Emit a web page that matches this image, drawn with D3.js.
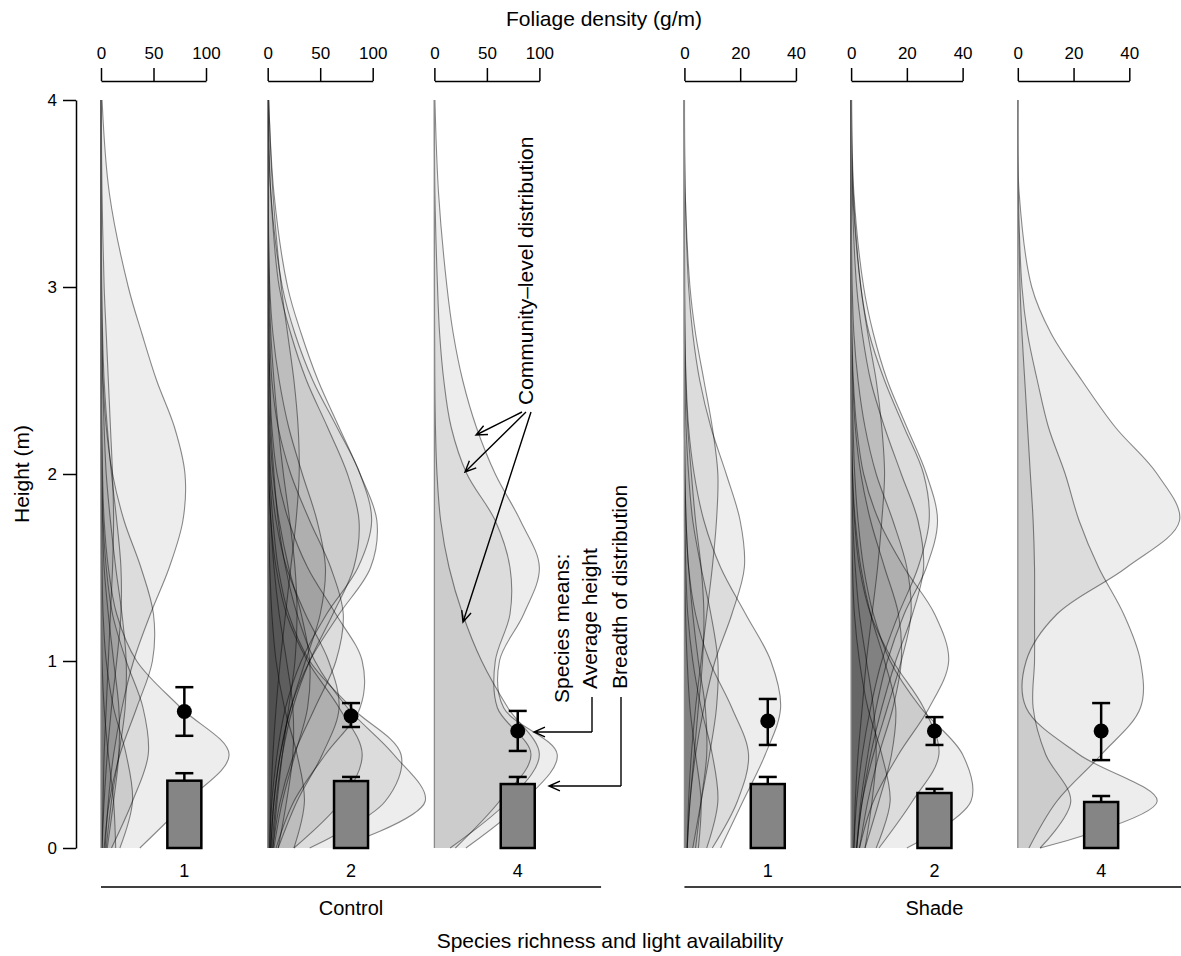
<!DOCTYPE html>
<html>
<head>
<meta charset="utf-8">
<script src="https://cdn.jsdelivr.net/npm/d3@7"></script>
<style>
  html, body { margin: 0; padding: 0; background: #fff; }
  svg { display: block; }
</style>
</head>
<body>
<svg id="chart" width="1181" height="956"></svg>
<script>
// ---- data -----------------------------------------------------------------
// heights (m) at which each foliage-density profile is tabulated
const heights = [0, 0.25, 0.5, 0.75, 1, 1.25, 1.5, 1.75, 2, 2.25, 2.5, 2.75, 3, 3.5, 4];

const treatments = ["Control", "Shade"];
const richness = ["1", "2", "4"];
const densityMax = [100, 40];
const densityTicks = [[0, 50, 100], [0, 20, 40]];
const heightTicks = [0, 1, 2, 3, 4];

// community-level foliage density (g/m) at each height, one row per plot
const profilesControl1 = [
  [37, 82, 122, 76, 34, 15, 7, 3, 1.5, 0.8, 0.4, 0.2, 0.1, 0, 0],
  [4, 7, 12, 20, 31, 47, 65, 78, 80, 70, 53, 39, 26, 8, 1],
  [3, 8, 18, 34, 49, 50, 38, 22, 11, 5, 2, 1, 0.5, 0, 0],
  [10, 30, 45, 40, 24, 11, 5, 2, 1, 0.5, 0.2, 0, 0, 0, 0],
  [18, 30, 24, 12, 5, 2, 1, 0.5, 0.2, 0, 0, 0, 0, 0, 0],
  [5, 10, 17, 23, 24, 20, 14, 9, 5, 3, 1.5, 0.7, 0.3, 0, 0],
  [1, 3, 6, 10, 15, 19, 19, 15, 10, 6, 3, 1.5, 0.7, 0.1, 0],
  [6, 12, 17, 17, 12, 7, 3, 1.5, 0.5, 0.2, 0, 0, 0, 0, 0],
  [14, 12, 7, 3, 1, 0.5, 0.2, 0, 0, 0, 0, 0, 0, 0, 0],
  [1, 2, 3, 5, 7, 9, 11, 12, 11, 9, 7, 5, 3, 1, 0.2]
];
const profilesControl2 = [
  [3, 6, 12, 22, 40, 68, 98, 104, 88, 68, 48, 32, 19, 6, 1],
  [2, 4, 9, 17, 32, 56, 86, 99, 88, 66, 43, 26, 14, 3, 0.5],
  [4, 8, 14, 24, 40, 62, 82, 87, 76, 57, 37, 22, 11, 3, 0.5],
  [66, 150, 120, 76, 45, 28, 17, 10, 6, 3, 2, 1, 0.5, 0, 0],
  [40, 112, 127, 80, 40, 20, 10, 5, 2, 1, 0.5, 0, 0, 0, 0],
  [8, 25, 55, 88, 90, 65, 38, 20, 9, 4, 2, 1, 0.3, 0, 0],
  [25, 70, 90, 68, 38, 18, 8, 3, 1, 0.5, 0, 0, 0, 0, 0],
  [5, 12, 25, 45, 65, 72, 60, 40, 22, 10, 4, 2, 1, 0, 0],
  [10, 28, 52, 68, 58, 36, 18, 8, 3, 1, 0.5, 0, 0, 0, 0],
  [3, 6, 12, 22, 36, 50, 55, 47, 33, 20, 11, 5, 2, 0.5, 0],
  [6, 14, 26, 38, 40, 32, 20, 11, 5, 2, 1, 0.5, 0, 0, 0],
  [25, 35, 28, 16, 8, 4, 2, 1, 0.5, 0, 0, 0, 0, 0, 0],
  [5, 9, 14, 20, 26, 28, 26, 21, 15, 10, 6, 3, 1.5, 0.3, 0],
  [10, 18, 24, 24, 18, 11, 6, 3, 1, 0.5, 0, 0, 0, 0, 0],
  [2, 3, 5, 8, 12, 17, 22, 27, 30, 29, 25, 19, 13, 5, 1]
];
const profilesControl4 = [
  [30, 85, 117, 66, 62, 85, 100, 82, 58, 40, 27, 18, 12, 4, 0.5],
  [20, 62, 92, 60, 58, 72, 72, 58, 31, 16, 9, 5, 3, 0.5, 0],
  [15, 70, 100, 70, 45, 27, 14, 6, 2.5, 1, 0.4, 0.2, 0.1, 0, 0]
];
const profilesShade1 = [
  [13, 21, 29, 34.5, 31, 22, 13, 7, 3.5, 1.5, 0.6, 0.2, 0.1, 0, 0],
  [1, 2, 4, 7, 11, 17, 21.5, 20, 15, 9.5, 5.5, 3, 1.5, 0.3, 0],
  [10, 19, 23, 17, 9, 4, 1.5, 0.6, 0.2, 0, 0, 0, 0, 0, 0],
  [1, 1.5, 2.5, 4, 6, 8, 10, 11.5, 12, 10, 7, 4, 2, 0.3, 0],
  [3, 6, 9, 11.5, 12, 9.5, 6, 3, 1.5, 0.6, 0.2, 0, 0, 0, 0],
  [8, 12, 10, 6, 3, 1.2, 0.5, 0.2, 0, 0, 0, 0, 0, 0, 0],
  [4, 6, 8, 7.5, 5, 3, 1.5, 0.6, 0.2, 0, 0, 0, 0, 0, 0],
  [1, 2, 3.5, 5, 6.5, 7, 6, 4, 2.5, 1.2, 0.5, 0.2, 0, 0, 0],
  [5, 6, 4, 2, 1, 0.4, 0.1, 0, 0, 0, 0, 0, 0, 0, 0]
];
const profilesShade2 = [
  [2, 3.5, 6, 9, 13, 19, 27, 31, 27, 20, 13, 8, 4.5, 1, 0.2],
  [1, 2, 4, 7, 11, 17, 24, 28, 26, 19, 12, 6.5, 3.5, 0.6, 0.1],
  [2, 4, 7, 11, 16, 22, 26, 24, 18, 12, 7, 4, 2, 0.4, 0],
  [20, 43, 40, 25, 14, 8, 4.5, 2.5, 1.3, 0.7, 0.3, 0.1, 0, 0, 0],
  [3, 8, 17, 28, 35, 30, 19, 10, 4.5, 2, 0.8, 0.3, 0.1, 0, 0],
  [10, 22, 31.5, 26, 15, 7, 3, 1.2, 0.5, 0.2, 0, 0, 0, 0, 0],
  [2, 4, 8, 13, 18, 21.5, 20, 15, 9, 5, 2.5, 1, 0.4, 0, 0],
  [3, 6, 10, 15, 18, 17, 12, 7, 3.5, 1.5, 0.6, 0.2, 0, 0, 0],
  [5, 10, 14.5, 16, 12, 7, 3.5, 1.5, 0.5, 0.2, 0, 0, 0, 0, 0],
  [9, 14, 11, 6, 3, 1.2, 0.5, 0.2, 0, 0, 0, 0, 0, 0, 0],
  [1, 1.5, 2.5, 4, 5.5, 7.5, 9.5, 11, 12, 11, 9, 6, 3.5, 0.8, 0.1],
  [5, 7.5, 9, 8, 5.5, 3, 1.5, 0.6, 0.2, 0, 0, 0, 0, 0, 0]
];
const profilesShade4 = [
  [8, 50, 22, 3, 3, 14, 39, 58, 50, 35, 23, 12, 5, 0.5, 0],
  [4, 14, 30, 44, 44, 38, 29, 22, 17, 11, 7, 3.5, 1.5, 0.2, 0],
  [8, 19, 10, 5.5, 6, 6, 6, 5.5, 4.5, 3.5, 2.5, 1.5, 0.8, 0.1, 0]
];

// species means (m): average height with its interval, breadth with its upper error
const meanHeight   = [0.73, 0.706, 0.626, 0.679, 0.626, 0.626];
const meanHeightLo = [0.60, 0.647, 0.519, 0.551, 0.551, 0.47];
const meanHeightHi = [0.86, 0.775, 0.733, 0.797, 0.70, 0.775];
const breadth      = [0.36, 0.358, 0.342, 0.342, 0.294, 0.246];
const breadthHi    = [0.40, 0.38, 0.38, 0.38, 0.316, 0.278];

// ---- layout ---------------------------------------------------------------
const FONT = "'Liberation Sans', Arial, Helvetica, sans-serif";
const svg = d3.select("#chart").attr("font-family", FONT);

const y = d3.scaleLinear().domain([0, 4]).range([848, 100]);
// six panel slots; the Shade group starts half a slot after the Control group
const slot = d3.scaleLinear().domain([0, 6.5]).range([101, 1184.5]);
const groupStart = [0, 3.5];
const axisLen = [105, 111.5];

const profileSets = [profilesControl1, profilesControl2, profilesControl4,
                     profilesShade1, profilesShade2, profilesShade4];

const panels = [];
treatments.forEach((t, ti) => richness.forEach((r, ri) => panels.push({ t, ti, r, ri })));

function styleAxis(g, size) {
  g.attr("font-family", FONT).attr("font-size", size);
  g.selectAll(".domain").attr("stroke", "#000").attr("stroke-width", 1.5);
  g.selectAll(".tick line").attr("stroke", "#000").attr("stroke-width", 1.5);
  g.selectAll(".tick text").attr("fill", "#000");
}

const smooth = d3.curveCatmullRom.alpha(0.5);

panels.forEach((p, i) => {
  const left = slot(groupStart[p.ti] + p.ri);
  const cx = slot(groupStart[p.ti] + p.ri + 0.5);
  const x = d3.scaleLinear().domain([0, densityMax[p.ti]]).range([left, left + axisLen[p.ti]]);

  // foliage density scale above each panel
  svg.append("g")
    .attr("transform", "translate(0,81)")
    .call(d3.axisTop(x).tickValues(densityTicks[p.ti]).tickSize(13).tickSizeOuter(0).tickPadding(9))
    .call(g => styleAxis(g, 17));

  // overlapping profiles, tabulated from the top of the canopy down
  const rows = profileSets[i].map(vals => heights.map((h, k) => ({ h, v: vals[k] })).reverse());
  const area = d3.area().curve(smooth)
    .y(d => y(d.h)).x0(x(0)).x1(d => x(d.v));
  const line = d3.line().curve(smooth)
    .y(d => y(d.h)).x(d => x(d.v));

  const prof = svg.append("g").selectAll("g").data(rows).join("g");
  prof.append("path").attr("d", area).attr("fill", "#000").attr("fill-opacity", 0.07);
  prof.append("path").attr("d", line).attr("fill", "none")
    .attr("stroke", "#000").attr("stroke-opacity", 0.45).attr("stroke-width", 1.1);

  svg.append("line")
    .attr("x1", x(0)).attr("x2", x(0)).attr("y1", y(0)).attr("y2", y(4))
    .attr("stroke", "#8a8a8a").attr("stroke-width", 1.3);

  // breadth of distribution: bar with upper error
  const bw = 34;
  svg.append("line")
    .attr("x1", cx).attr("x2", cx).attr("y1", y(breadth[i])).attr("y2", y(breadthHi[i]))
    .attr("stroke", "#000").attr("stroke-width", 2.5);
  svg.append("line")
    .attr("x1", cx - 9).attr("x2", cx + 9).attr("y1", y(breadthHi[i])).attr("y2", y(breadthHi[i]))
    .attr("stroke", "#000").attr("stroke-width", 2.5);
  svg.append("rect")
    .attr("x", cx - bw / 2).attr("width", bw)
    .attr("y", y(breadth[i])).attr("height", y(0) - y(breadth[i]))
    .attr("fill", "#858585").attr("stroke", "#000").attr("stroke-width", 2.5);

  // average height: point with interval
  svg.append("line")
    .attr("x1", cx).attr("x2", cx).attr("y1", y(meanHeightLo[i])).attr("y2", y(meanHeightHi[i]))
    .attr("stroke", "#000").attr("stroke-width", 2.5);
  [meanHeightLo[i], meanHeightHi[i]].forEach(v => {
    svg.append("line")
      .attr("x1", cx - 9).attr("x2", cx + 9).attr("y1", y(v)).attr("y2", y(v))
      .attr("stroke", "#000").attr("stroke-width", 2.5);
  });
  svg.append("circle").attr("cx", cx).attr("cy", y(meanHeight[i])).attr("r", 7.5).attr("fill", "#000");

  // richness label
  svg.append("text").attr("x", cx).attr("y", 877).attr("text-anchor", "middle")
    .attr("font-size", 18).text(p.r);
});

// height axis
svg.append("g")
  .attr("transform", "translate(76,0)")
  .call(d3.axisLeft(y).tickValues(heightTicks).tickFormat(d3.format("d")).tickSize(13).tickSizeOuter(0).tickPadding(6))
  .call(g => styleAxis(g, 17));

// treatment groups
treatments.forEach((t, ti) => {
  const x1 = slot(groupStart[ti]), x2 = slot(groupStart[ti] + 3);
  svg.append("line").attr("x1", x1).attr("x2", x2).attr("y1", 887).attr("y2", 887)
    .attr("stroke", "#000").attr("stroke-width", 1.5);
  svg.append("text").attr("x", (x1 + x2) / 2).attr("y", 915).attr("text-anchor", "middle")
    .attr("font-size", 20).text(t);
});

// axis titles
svg.append("text").attr("x", 604).attr("y", 26).attr("text-anchor", "middle")
  .attr("font-size", 21).text("Foliage density (g/m)");
svg.append("text").attr("x", 610).attr("y", 948).attr("text-anchor", "middle")
  .attr("font-size", 21).text("Species richness and light availability");
svg.append("text").attr("transform", "translate(29,474) rotate(-90)").attr("text-anchor", "middle")
  .attr("font-size", 21).text("Height (m)");

// ---- annotations ------------------------------------------------------------
function arrow(x1, y1, x2, y2) {
  const a = Math.atan2(y2 - y1, x2 - x1), L = 12, s = 0.42;
  const p = d3.path();
  p.moveTo(x1, y1); p.lineTo(x2, y2);
  p.moveTo(x2 - L * Math.cos(a - s), y2 - L * Math.sin(a - s));
  p.lineTo(x2, y2);
  p.lineTo(x2 - L * Math.cos(a + s), y2 - L * Math.sin(a + s));
  svg.append("path").attr("d", p.toString()).attr("fill", "none")
    .attr("stroke", "#000").attr("stroke-width", 1.4);
}
function vtext(x, yStart, str) {
  svg.append("text").attr("transform", `translate(${x},${yStart}) rotate(-90)`)
    .attr("font-size", 21).text(str);
}

vtext(533, 405, "Community\u2013level distribution");
arrow(522, 412, 476, 435);
arrow(526, 412, 465, 472);
arrow(531, 412, 463, 622);

vtext(569, 703, "Species means:");
vtext(597, 689, "Average height");
vtext(627, 689, "Breadth of distribution");

svg.append("path").attr("d", "M592,697 V732").attr("stroke", "#000").attr("stroke-width", 1.4).attr("fill", "none");
arrow(592, 732, 534, 732);
svg.append("path").attr("d", "M621,697 V786").attr("stroke", "#000").attr("stroke-width", 1.4).attr("fill", "none");
arrow(621, 786, 549, 786);
</script>
</body>
</html>
